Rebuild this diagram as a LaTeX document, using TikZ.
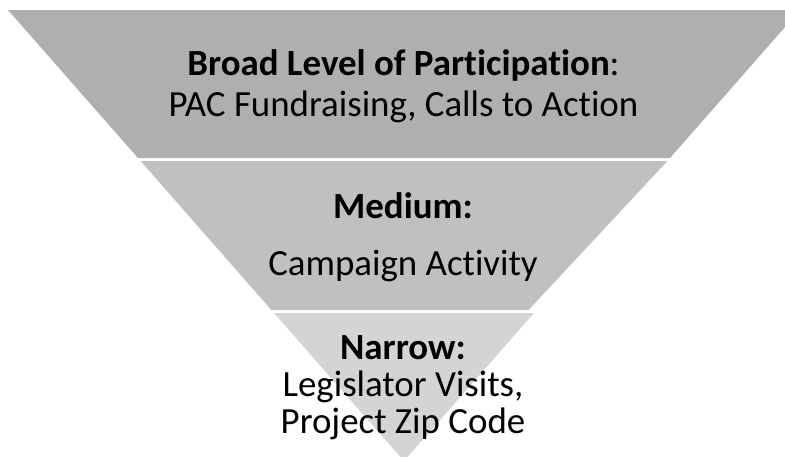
\documentclass[tikz,border=0pt]{standalone}
\usepackage{fontspec}
\setmainfont{Carlito}[Ligatures=NoCommon]
\definecolor{bandtop}{RGB}{175,175,175}
\definecolor{bandmid}{RGB}{192,192,192}
\definecolor{bandlow}{RGB}{212,212,212}
\begin{document}
\begin{tikzpicture}[x=1pt,y=-1pt,
  lbl/.style={anchor=base,inner sep=0pt,text=black,font=\fontsize{36.9}{44}\selectfont}]
\useasboundingbox (0,0) rectangle (785,456);
\begin{scope}
  \clip (0,0) rectangle (785,456);
  % three stacked bands of the inverted funnel
  \fill[bandtop] (8,10) -- (800,10) -- (670,158) -- (138,158) -- cycle;
  \fill[bandmid] (140.6,161) -- (667.4,161) -- (528.6,310) -- (271.4,310) -- cycle;
  \fill[bandlow] (274,313) -- (534,313) -- (404,461) -- cycle;
\end{scope}
% band labels
\node[lbl] (broad)    at (403.5,75)  {\textbf{Broad Level of Participation}:};
\node[lbl] (pac)      at (403.5,116) {PAC Fundraising, Calls to Action};
\node[lbl] (medium)   at (403,218) {\textbf{Medium:}};
\node[lbl] (campaign) at (403,275) {Campaign Activity};
\node[lbl] (narrow)   at (403,359) {\textbf{Narrow:}};
\node[lbl] (visits)   at (403,396) {Legislator Visits,};
\node[lbl] (zip)      at (403,433) {Project Zip Code};
\end{tikzpicture}
\end{document}
